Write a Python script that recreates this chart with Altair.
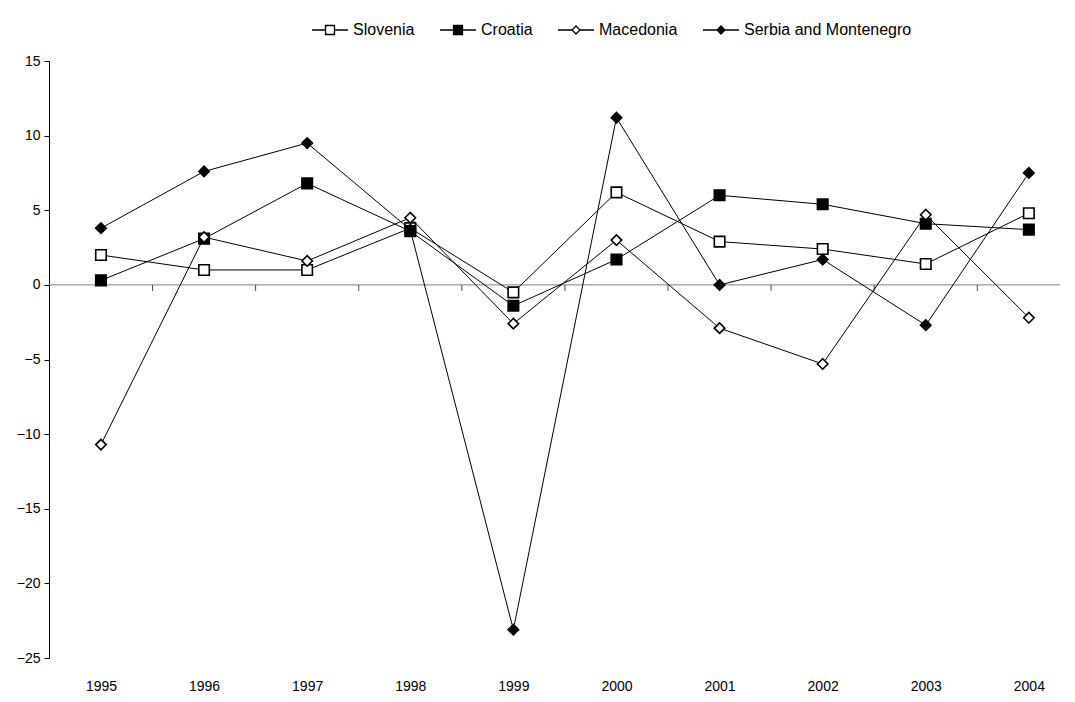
import altair as alt
import pandas as pd

years = [1995, 1996, 1997, 1998, 1999, 2000, 2001, 2002, 2003, 2004]
series_names = ["Slovenia", "Croatia", "Macedonia", "Serbia and Montenegro"]
slovenia = [2.0, 1.0, 1.0, 3.8, -0.5, 6.2, 2.9, 2.4, 1.4, 4.8]
croatia = [0.3, 3.1, 6.8, 3.6, -1.4, 1.7, 6.0, 5.4, 4.1, 3.7]
macedonia = [-10.7, 3.2, 1.6, 4.5, -2.6, 3.0, -2.9, -5.3, 4.7, -2.2]
serbia = [3.8, 7.6, 9.5, 3.7, -23.1, 11.2, 0.0, 1.7, -2.7, 7.5]
y_ticks = [15, 10, 5, 0, -5, -10, -15, -20, -25]

rows = []
for name, vals in zip(series_names, [slovenia, croatia, macedonia, serbia]):
    for yr, v in zip(years, vals):
        rows.append({"year": yr, "value": v, "series": name})
df = pd.DataFrame(rows)

bounds = pd.DataFrame({"year": [y + 0.5 for y in years[:-1]], "value": [0] * (len(years) - 1)})
zero = pd.DataFrame({"value": [0]})

FONT = "Liberation Sans"
xscale = alt.Scale(domain=[1994.496, 2004.302], nice=False, zero=False)
yscale = alt.Scale(domain=[-25, 15], nice=False, zero=False)

xaxis = alt.Axis(values=years, format="d", grid=False, domain=False, ticks=False, tickSize=0,
                 labelPadding=21, labelFontSize=14, labelFont=FONT, labelColor="black", title=None)
yaxis = alt.Axis(values=y_ticks, grid=False, domainColor="black", tickColor="black", tickSize=5,
                 labelPadding=4, labelFontSize=14, labelFont=FONT, labelColor="black", title=None)
X = alt.X("year:Q", scale=xscale, axis=xaxis)
Y = alt.Y("value:Q", scale=yscale, axis=yaxis)

rule = alt.Chart(zero).mark_rule(color="#808080", strokeWidth=1).encode(y=Y)

ticks = alt.Chart(bounds).mark_tick(orient="vertical", size=6, thickness=1, color="black", yOffset=3).encode(
    x=X, y=Y
)

lines = alt.Chart(df).mark_line(color="black", strokeWidth=1).encode(x=X, y=Y, detail="series:N")

points = alt.Chart(df).mark_point(filled=True, stroke="black", strokeWidth=1.6, size=110, opacity=1).encode(
    x=X, y=Y,
    shape=alt.Shape("series:N", scale=alt.Scale(domain=series_names, range=["square", "square", "diamond", "diamond"]), legend=None),
    fill=alt.Fill("series:N", scale=alt.Scale(domain=series_names, range=["white", "black", "white", "black"]), legend=None),
)

sq = "M-1,0H-0.25M0.25,0H1M-0.25,-0.25H0.25V0.25H-0.25Z"
dm = "M-1,0H-0.22M0.22,0H1M0,-0.22L0.22,0L0,0.22L-0.22,0Z"
leg = alt.Legend(title=None, orient="none", legendX=262, legendY=-50, direction="horizontal",
                 labelFontSize=16, labelFont=FONT, labelColor="black", labelLimit=0, symbolSize=1296,
                 symbolStrokeWidth=1.3, labelOffset=4, columnPadding=22)
dummy = alt.Chart(df).mark_point(filled=True, strokeWidth=1.3, size=1296, opacity=1,
                                 yOffset=-5000, clip=True).encode(
    x=X, y=Y,
    shape=alt.Shape("series:N", scale=alt.Scale(domain=series_names, range=[sq, sq, dm, dm]), legend=leg),
    fill=alt.Fill("series:N", scale=alt.Scale(domain=series_names, range=["white", "black", "white", "black"]), legend=leg),
    stroke=alt.Stroke("series:N", scale=alt.Scale(domain=series_names, range=["black", "black", "black", "black"]), legend=leg),
)

chart = alt.layer(rule, ticks, lines, points, dummy).resolve_scale(
    shape="independent", fill="independent", stroke="independent"
).properties(
    width=1011, height=597,
    background="white",
    autosize=alt.AutoSizeParams(type="none"),
    padding={"left": 41, "top": 53, "right": 5, "bottom": 36},
).configure_view(stroke=None)

chart.save("out.html", embed_options={"renderer": "svg", "actions": False})
